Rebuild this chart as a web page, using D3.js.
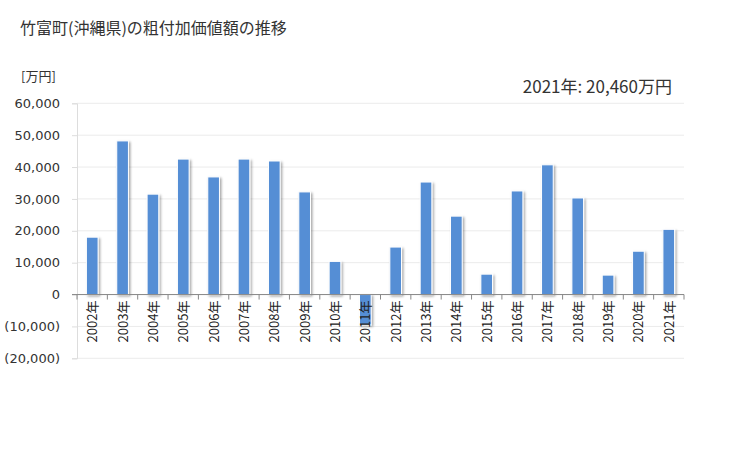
<!DOCTYPE html>
<html>
<head>
<meta charset="utf-8">
<script src="https://cdn.jsdelivr.net/npm/d3@7"></script>
<style>
  body { margin: 0; background: #fff; }
  text { font-family: "DejaVu Sans", Verdana, sans-serif; fill: #333; }
</style>
</head>
<body>
<div id="chart"></div>
<script>
const years = ["2002年","2003年","2004年","2005年","2006年","2007年","2008年","2009年","2010年","2011年",
  "2012年","2013年","2014年","2015年","2016年","2017年","2018年","2019年","2020年","2021年"];
const values = [18000, 48200, 31500, 42500, 36900, 42500, 41900, 32200, 10400, -9500,
  14900, 35300, 24600, 6400, 32500, 40700, 30300, 6100, 13600, 20460];
const yTicks = [60000, 50000, 40000, 30000, 20000, 10000, 0, -10000, -20000];

const width = 729, height = 450;
const plotLeft = 77, plotRight = 684, plotTop = 103.3, plotBottom = 358.3;

const svg = d3.select("#chart").append("svg")
  .attr("width", width).attr("height", height);

const defs = svg.append("defs");
const f = defs.append("filter").attr("id", "shadow")
  .attr("x", "-30%").attr("y", "-10%").attr("width", "170%").attr("height", "130%");
f.append("feDropShadow").attr("dx", 1.5).attr("dy", 1.5).attr("stdDeviation", 1.2)
  .attr("flood-color", "#000").attr("flood-opacity", 0.35);

svg.append("text").attr("x", 20).attr("y", 34)
  .style("font-family", "'Noto Sans CJK JP', sans-serif")
  .style("font-size", "16px").text("竹富町(沖縄県)の粗付加価値額の推移");

svg.append("text").attr("x", 21).attr("y", 81)
  .style("font-family", "'Noto Sans CJK JP', sans-serif")
  .style("font-size", "13px").text("[万円]");

svg.append("text").attr("x", 672).attr("y", 93).attr("text-anchor", "end")
  .style("font-family", "'Noto Sans CJK JP', sans-serif")
  .style("font-size", "17px").text("2021年: 20,460万円");

const y = d3.scaleLinear().domain([-20000, 60000]).range([plotBottom, plotTop]);
const x = d3.scaleBand().domain(years).range([plotLeft, plotRight]).paddingInner(0.615).paddingOuter(0.31);
const xb = d3.scaleBand().domain(years).range([plotLeft, plotRight]);

// grid
svg.append("g").selectAll("line").data(yTicks).join("line")
  .attr("x1", plotLeft).attr("x2", plotRight)
  .attr("y1", d => y(d)).attr("y2", d => y(d))
  .attr("stroke", "#ebebeb").attr("stroke-width", 1);

// y axis
const yAxis = d3.axisLeft(y).tickValues(yTicks).tickSize(5).tickPadding(12)
  .tickFormat(d => d < 0 ? "(" + d3.format(",")(-d) + ")" : d3.format(",")(d));
const gy = svg.append("g").attr("transform", `translate(${plotLeft},0)`).call(yAxis);
gy.select(".domain").attr("stroke", "#ddd");
gy.selectAll(".tick line").attr("stroke", "#ddd");
gy.selectAll("text").style("font-size", "13px").style("fill", "#333");

// bars
svg.append("g").selectAll("rect").data(values).join("rect")
  .attr("x", (d, i) => x(years[i]))
  .attr("width", x.bandwidth())
  .attr("y", d => y(Math.max(0, d)))
  .attr("height", d => Math.abs(y(d) - y(0)))
  .attr("fill", "#558ed5")
  .attr("stroke", "#fff").attr("stroke-width", 1)
  .attr("filter", "url(#shadow)");

// x axis
const gx = svg.append("g").attr("transform", `translate(0,${y(0)})`);
gx.append("line").attr("x1", plotLeft - 5).attr("x2", plotRight).attr("stroke", "#888");
gx.selectAll("line.t").data(years.concat(["end"])).join("line").attr("class", "t")
  .attr("x1", (d, i) => plotLeft + i * xb.bandwidth()).attr("x2", (d, i) => plotLeft + i * xb.bandwidth())
  .attr("y1", 0).attr("y2", 5).attr("stroke", "#888");
gx.selectAll("text").data(years).join("text")
  .attr("transform", d => `translate(${xb(d) + xb.bandwidth() / 2 + 5},6) rotate(-90)`)
  .attr("text-anchor", "end")
  .style("font-family", "'Noto Sans CJK JP', sans-serif")
  .style("font-size", "13px").style("fill", "#222")
  .text(d => d);
</script>
</body>
</html>
